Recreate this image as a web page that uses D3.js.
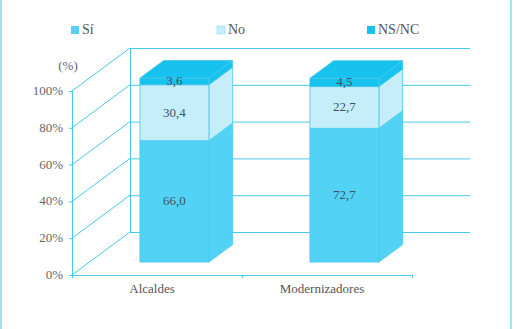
<!DOCTYPE html>
<html>
<head>
<meta charset="utf-8">
<script src="https://cdn.jsdelivr.net/npm/d3@7"></script>
<style>
  body { margin: 0; background: #fff; }
</style>
</head>
<body>
<div id="chart"></div>
<script>
// data
var categories = ["Alcaldes", "Modernizadores"];
var series = ["Sí", "No", "NS/NC"];
var valuesSi = [66.0, 72.7];
var valuesNo = [30.4, 22.7];
var valuesNsnc = [3.6, 4.5];
var yTicks = [0, 20, 40, 60, 80, 100];

var width = 517, height = 329;
var colors = { "Sí": "#52d3f6", "No": "#c6eefa", "NS/NC": "#17c2ee" };
var lineColor = "#48c8ec";
var textColor = "#3c5260";
var serif = "Liberation Serif";

// 3d geometry: depth goes up/right
var depthX = 58, depthY = -43;
var barZ0 = 0.3, barZ1 = 0.71;

var svg = d3.select("#chart")
    .append("svg")
    .attr("width", width)
    .attr("height", height);

// frame
svg.append("line").attr("x1", 1).attr("x2", 1).attr("y1", 0).attr("y2", height)
    .attr("stroke", "#9fe1f4").attr("stroke-width", 2);
svg.append("line").attr("x1", 511).attr("x2", 511).attr("y1", 0).attr("y2", height)
    .attr("stroke", lineColor).attr("stroke-width", 1);

var x = d3.scaleBand().domain(categories).range([72, 412]).paddingInner(0).paddingOuter(0);
var y = d3.scaleLinear().domain([0, 100]).range([275, 91]);

function proj(px, v, z) {
    return [px + z * depthX, y(v) + z * depthY];
}

var grid = svg.append("g").attr("fill", "none").attr("stroke", lineColor).attr("stroke-width", 1);

// back wall lines + side wall slants
yTicks.forEach(function(t) {
    var a = proj(72, t, 1), b = proj(412, t, 1);
    grid.append("line").attr("x1", a[0]).attr("y1", a[1] + 0.5).attr("x2", b[0]).attr("y2", b[1] + 0.5);
    var c = proj(72, t, 0);
    grid.append("line").attr("x1", c[0]).attr("y1", c[1]).attr("x2", a[0]).attr("y2", a[1]);
});
var bl0 = proj(72, 0, 1), bl1 = proj(72, 100, 1);
grid.append("line").attr("x1", bl0[0] + 0.5).attr("y1", bl0[1]).attr("x2", bl1[0] + 0.5).attr("y2", bl1[1]);

// front axis
grid.append("line").attr("x1", 72.5).attr("x2", 72.5).attr("y1", y(0)).attr("y2", y(100));
grid.append("line").attr("x1", 72).attr("x2", 412).attr("y1", y(0) + 0.5).attr("y2", y(0) + 0.5);
yTicks.forEach(function(t) {
    grid.append("line").attr("x1", 69).attr("x2", 72).attr("y1", y(t) + 0.5).attr("y2", y(t) + 0.5);
});
[72, 72 + x.bandwidth(), 412].forEach(function(px) {
    grid.append("line").attr("x1", px + 0.5).attr("x2", px + 0.5).attr("y1", y(0)).attr("y2", y(0) + 3);
});

// y tick labels
svg.selectAll(".ytick")
    .data(yTicks)
    .enter()
    .append("text")
    .attr("x", 63)
    .attr("y", function(d) { return y(d) + 4; })
    .attr("text-anchor", "end")
    .attr("font-family", serif)
    .style("font-size", "13px")
    .style("fill", "#666")
    .text(function(d) { return d + "%"; });

svg.append("text").attr("x", 68).attr("y", 70).attr("text-anchor", "middle")
    .attr("font-family", serif)
    .style("font-size", "13px").style("fill", "#666").text("(%)");

// category labels
svg.selectAll(".xlab")
    .data(categories)
    .enter()
    .append("text")
    .attr("x", function(d) { return x(d) + x.bandwidth() / 2 - 5; })
    .attr("y", 293)
    .attr("text-anchor", "middle")
    .attr("font-family", serif)
    .style("font-size", "13px")
    .style("fill", "#555")
    .text(function(d) { return d; });

// stacked bars
var barW = 69;
var stackRows = categories.map(function(c, i) {
    return { cat: c, "Sí": valuesSi[i], "No": valuesNo[i], "NS/NC": valuesNsnc[i] };
});
var stacked = d3.stack().keys(series)(stackRows);

categories.forEach(function(cat, i) {
    var x0 = x(cat) + (x.bandwidth() - barW) / 2;
    var x1 = x0 + barW;
    var g = svg.append("g");
    series.forEach(function(key, k) {
        var seg = stacked[k][i];
        var v0 = seg[0], v1 = seg[1];
        var col = colors[key];
        var f00 = proj(x0, v0, barZ0), f10 = proj(x1, v0, barZ0),
            f11 = proj(x1, v1, barZ0), f01 = proj(x0, v1, barZ0);
        var b10 = proj(x1, v0, barZ1), b11 = proj(x1, v1, barZ1), b01 = proj(x0, v1, barZ1);
        // side face
        g.append("path")
            .attr("d", d3.line()([f10, b10, b11, f11]) + "Z")
            .attr("fill", col).attr("stroke", lineColor).attr("stroke-width", 0.8);
        // front face
        g.append("path")
            .attr("d", d3.line()([f00, f10, f11, f01]) + "Z")
            .attr("fill", col).attr("stroke", lineColor).attr("stroke-width", 0.8);
        if (k === series.length - 1) {
            g.append("path")
                .attr("d", d3.line()([f01, f11, b11, b01]) + "Z")
                .attr("fill", col).attr("stroke", lineColor).attr("stroke-width", 0.8);
        }
        g.append("text")
            .attr("x", (f00[0] + f10[0]) / 2)
            .attr("y", (f00[1] + f01[1]) / 2 + 4)
            .attr("text-anchor", "middle")
            .attr("font-family", serif)
            .style("font-size", "13px")
            .style("fill", textColor)
            .text(d3.format(".1f")(seg.data[key]).replace(".", ","));
    });
});

// legend
var legendX = [71, 217, 367];
series.forEach(function(key, k) {
    svg.append("rect").attr("x", legendX[k]).attr("y", 26).attr("width", 8).attr("height", 8)
        .attr("fill", colors[key]).attr("stroke", key === "No" ? "#8fdcf2" : "none").attr("stroke-width", 0.6);
    svg.append("text").attr("x", legendX[k] + 11).attr("y", 33.5)
        .attr("font-family", serif)
        .style("font-size", "14px").style("fill", "#555").text(key);
});
</script>
</body>
</html>
